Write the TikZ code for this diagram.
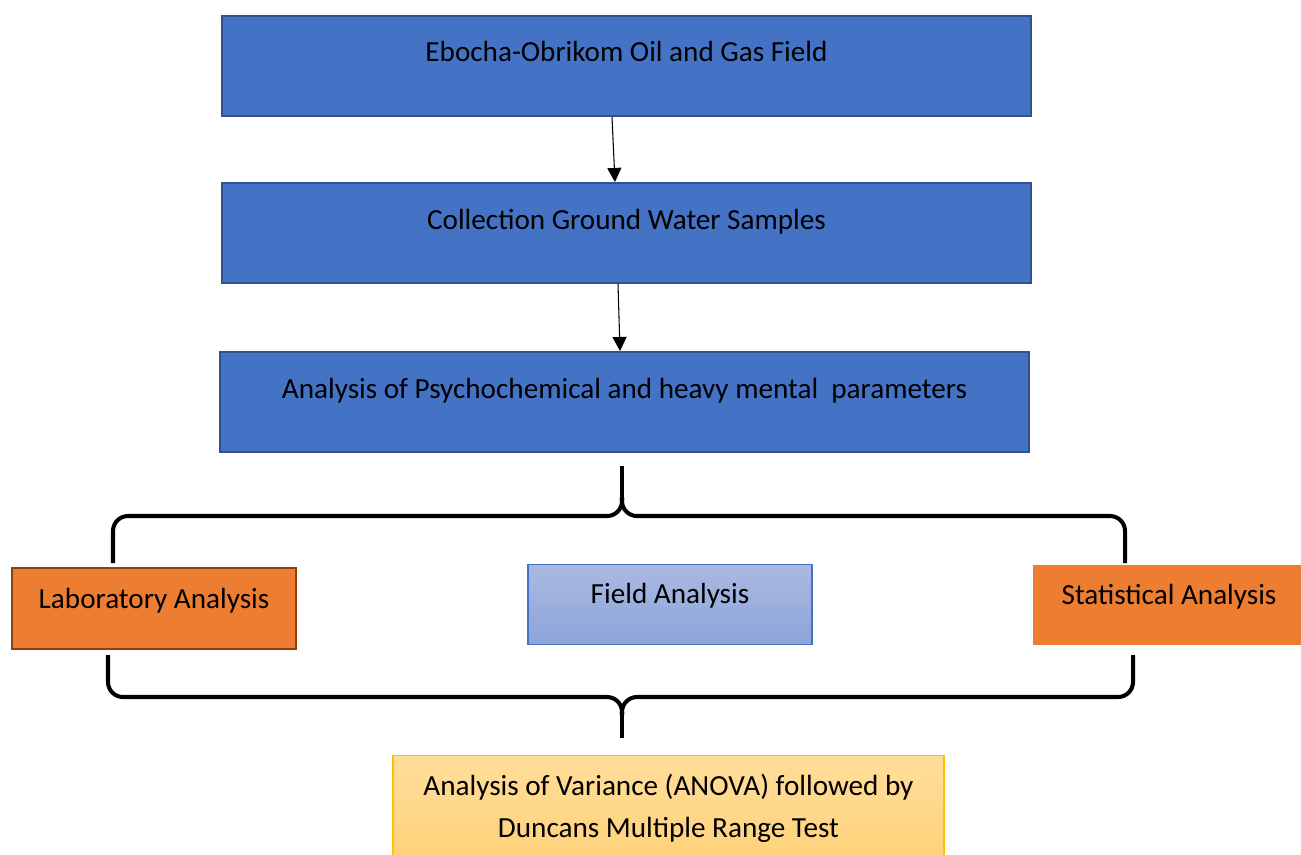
\documentclass[tikz,border=0pt]{standalone}
\usepackage{fontspec}
\setmainfont{Carlito}
\usepackage{tikz}
\usetikzlibrary{arrows.meta,positioning}
\definecolor{blkfill}{HTML}{4472C4}
\definecolor{blkline}{HTML}{2F528F}
\definecolor{orgfill}{HTML}{ED7D31}
\definecolor{orgline}{HTML}{8E4110}
\definecolor{fldtop}{HTML}{AAB9E2}
\definecolor{fldbot}{HTML}{8CA4D8}
\definecolor{anvtop}{HTML}{FFDD99}
\definecolor{anvbot}{HTML}{FFD27B}
\definecolor{anvline}{HTML}{FFC000}

\begin{document}
\begin{tikzpicture}[>={Triangle[length=8pt,width=8pt]},
   every node/.style={font=\fontsize{16.6}{23.8}\selectfont, inner xsep=0pt},
   blk/.style={draw=blkline, fill=blkfill, line width=1.2pt, minimum width=16.18cm,
      inner ysep=0pt, anchor=north},
   sub/.style={minimum width=5.68cm, inner ysep=0pt, anchor=north},
   brace/.style={line width=2.3pt, rounded corners=0.3cm}]
   \useasboundingbox (0,0) rectangle (26.02,-17.08);
   \node[blk, text height=0.9cm, text depth=1.1cm] (e) at (12.53,-0.3) {Ebocha-Obrikom Oil and Gas Field};
   \node[blk, text height=0.92cm, text depth=1.08cm] (c) at (12.53,-3.64) {Collection Ground Water Samples};
   \node[blk, text height=0.92cm, text depth=1.08cm] (a) at (12.49,-7.02) {Analysis of Psychochemical and heavy mental\ \ parameters};
   \node[sub, draw=orgline, fill=orgfill, line width=1.2pt, text height=0.8cm, text depth=0.82cm] (lab) at (3.08,-11.34) {Laboratory Analysis};
   \node[sub, draw=blkfill, top color=fldtop, bottom color=fldbot, line width=0.6pt, text height=0.78cm, text depth=0.82cm] (fld) at (13.4,-11.28) {Field Analysis};
   \node[sub, fill=orgfill, minimum width=5.36cm, text height=0.78cm, text depth=0.82cm] (stat) at (23.34,-11.3) {\hspace{0.08cm}Statistical Analysis};
   \node[sub, draw=anvline, top color=anvtop, bottom color=anvbot, line width=0.6pt, minimum width=11.02cm,
      minimum height=2.1cm, align=center] (anova) at (13.37,-15.1) {Analysis of Variance (ANOVA) followed by\\Duncans Multiple Range Test};
   \path[->, line width=0.6pt]
    ([xshift=-0.29cm]e.south) edge ([xshift=-0.23cm]c.north)
    ([xshift=-0.17cm]c.south) edge ([xshift=-0.09cm]a.north);
   \draw[brace] (2.26,-11.26) -- (2.26,-10.32) -- (12.44,-10.32) -- (12.44,-9.95);
   \draw[brace] (22.5,-11.26) -- (22.5,-10.32) -- (12.44,-10.32) -- (12.44,-9.95);
   \draw[brace] (12.44,-9.96) -- (12.44,-9.32);
   \draw[brace] (2.16,-13.1) -- (2.16,-13.94) -- (12.44,-13.94) -- (12.44,-14.3);
   \draw[brace] (22.66,-13.1) -- (22.66,-13.94) -- (12.44,-13.94) -- (12.44,-14.3);
   \draw[brace] (12.44,-14.29) -- (12.44,-14.76);
\end{tikzpicture}
\end{document}
